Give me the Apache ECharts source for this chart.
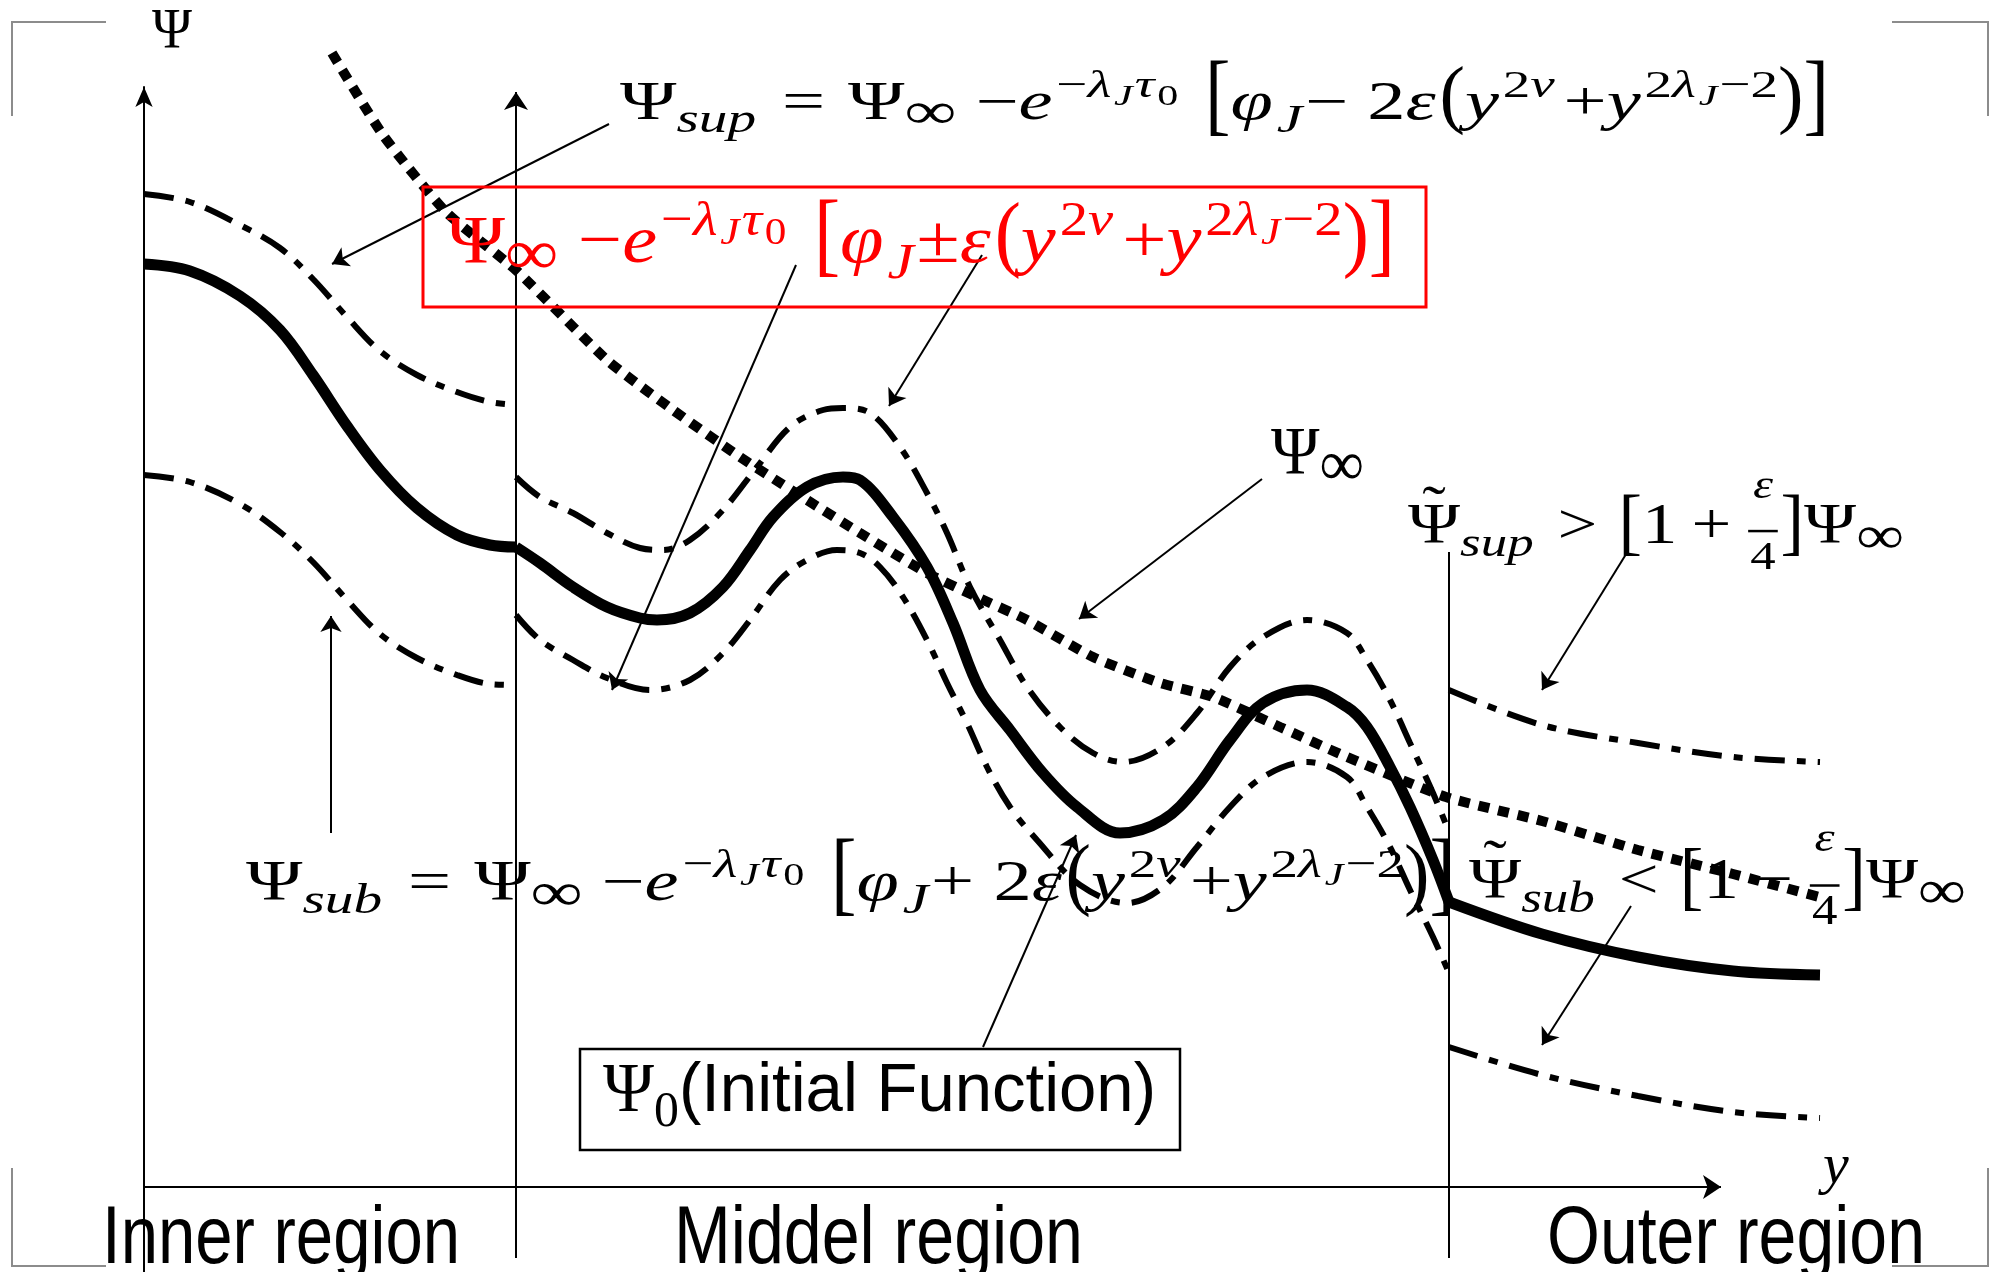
<!DOCTYPE html>
<html>
<head>
<meta charset="utf-8">
<script src="https://cdn.jsdelivr.net/npm/echarts@6.0.0/dist/echarts.min.js"></script>
<style>
  html, body { margin: 0; padding: 0; background: #fff; }
  #chart { width: 2002px; height: 1272px; }
</style>
</head>
<body>
<div id="chart"></div>
<script>
// values: x = y-coordinate, y = Psi
const innerUpper = [[0, 9.93], [0.46, 9.85], [0.96, 9.62], [1.36, 9.39], [1.69, 9.08], [2.03, 8.70], [2.36, 8.36], [2.73, 8.12], [3.13, 7.95], [3.46, 7.85], [3.72, 7.82]];
const innerSolid = [[0, 9.23], [0.46, 9.16], [0.96, 8.91], [1.36, 8.57], [1.69, 8.12], [2.03, 7.61], [2.36, 7.17], [2.73, 6.79], [3.13, 6.52], [3.46, 6.42], [3.72, 6.40]];
const innerLower = [[0, 7.12], [0.46, 7.05], [0.96, 6.83], [1.36, 6.55], [1.69, 6.25], [2.03, 5.87], [2.36, 5.53], [2.73, 5.29], [3.13, 5.12], [3.46, 5.03], [3.72, 5.02]];

const middleUpper = [[3.72, 7.10], [3.96, 6.90], [4.29, 6.74], [4.63, 6.54], [4.96, 6.39], [5.19, 6.37], [5.46, 6.47], [5.79, 6.77], [6.13, 7.20], [6.46, 7.60], [6.79, 7.77], [6.99, 7.79], [7.26, 7.74], [7.56, 7.40], [7.83, 6.94], [8.03, 6.54], [8.26, 6.00], [8.56, 5.47], [8.83, 5.00], [9.16, 4.60], [9.49, 4.34], [9.79, 4.25], [10.19, 4.40], [10.53, 4.74], [10.86, 5.20], [11.19, 5.50], [11.63, 5.67], [12.03, 5.54], [12.23, 5.27], [12.46, 4.87], [12.66, 4.44], [12.89, 3.94], [13.05, 3.55]];
const middleSolid = [[3.72, 6.40], [3.96, 6.24], [4.29, 6.00], [4.63, 5.80], [4.96, 5.69], [5.13, 5.67], [5.46, 5.74], [5.79, 6.00], [6.06, 6.37], [6.29, 6.70], [6.63, 7.00], [6.99, 7.10], [7.16, 7.07], [7.49, 6.70], [7.83, 6.20], [8.09, 5.64], [8.36, 4.97], [8.66, 4.57], [8.99, 4.14], [9.33, 3.80], [9.76, 3.54], [10.19, 3.67], [10.53, 4.00], [10.86, 4.47], [11.19, 4.84], [11.63, 4.97], [12.03, 4.80], [12.23, 4.60], [12.46, 4.20], [12.66, 3.80], [12.89, 3.27], [13.05, 2.85]];
const middleLower = [[3.72, 5.72], [3.96, 5.47], [4.29, 5.27], [4.63, 5.09], [5.06, 4.97], [5.46, 5.07], [5.79, 5.34], [6.06, 5.67], [6.36, 6.07], [6.63, 6.27], [6.93, 6.37], [7.16, 6.34], [7.36, 6.20], [7.59, 5.90], [7.83, 5.47], [8.03, 5.04], [8.23, 4.64], [8.43, 4.20], [8.66, 3.80], [8.93, 3.47], [9.36, 3.02], [9.83, 2.84], [10.19, 3.00], [10.53, 3.40], [10.86, 3.80], [11.19, 4.10], [11.63, 4.25], [12.03, 4.10], [12.23, 3.80], [12.46, 3.40], [12.66, 2.97], [12.89, 2.50], [13.05, 2.14]];

const outerUpper = [[13.05, 4.97], [13.98, 4.62], [14.94, 4.44], [15.89, 4.30], [16.76, 4.25]];
const outerSolid = [[13.05, 2.85], [13.98, 2.53], [14.94, 2.30], [15.89, 2.16], [16.76, 2.12]];
const outerLower = [[13.05, 1.40], [13.98, 1.12], [14.94, 0.91], [15.89, 0.75], [16.76, 0.69]];

// Psi_infinity (thick dotted)
const psiInf = [[1.88, 11.34], [2.39, 10.52], [3.02, 9.75], [3.73, 9.16], [4.63, 8.27], [5.29, 7.77], [5.96, 7.30], [6.63, 6.87], [7.16, 6.54], [7.83, 6.14], [8.33, 5.90], [8.83, 5.67], [9.49, 5.30], [10.16, 5.04], [10.69, 4.90], [11.36, 4.60], [12.03, 4.30], [13.02, 3.90], [13.98, 3.66], [14.94, 3.37], [15.89, 3.13], [16.79, 2.89]];

// axis and region borders
const yAxisLine = [[0, 0], [15.77, 0]];
const middleBorder = [[3.72, -0.71], [3.72, 10.95]];
const outerBorder = [[13.05, -0.71], [13.05, 6.35]];

// annotation arrows [from, to]
const annotationArrows = [
  [[4.65, 10.63], [1.88, 9.23]],
  [[6.52, 9.22], [4.68, 4.97]],
  [[8.38, 9.32], [7.45, 7.81]],
  [[11.18, 7.08], [9.35, 5.68]],
  [[14.84, 6.36], [13.98, 4.97]],
  [[14.87, 2.81], [13.98, 1.42]],
  [[1.87, 3.54], [1.87, 5.71]],
  [[8.39, 1.40], [9.32, 3.52]]
];

// ---------- text layout helpers ----------
const SERIF = '"Liberation Serif", "DejaVu Serif", serif';
const SANS = '"Liberation Sans", "DejaVu Sans", sans-serif';
const meas = document.createElement("canvas").getContext("2d");
const fontOf = (size, italic, sans) => (italic ? "italic " : "") + size.toFixed(1) + "px " + (sans ? SANS : SERIF);
const textWidth = (t, font) => { meas.font = font; return meas.measureText(t).width; };

// text whose alphabetic baseline sits at (x, baseline); sy stretches it about the baseline
function textEl(t, x, baseline, size, italic, sans, color, align, sy) {
  return {
    type: "text", x: x, y: baseline, scaleY: sy || 1, silent: true, z: 50,
    style: {
      x: 0, y: -size * (sans ? 0.3465 : 0.3375),
      text: t, font: fontOf(size, italic, sans), fill: color,
      textAlign: align || "left", textVerticalAlign: "middle", align: align || "left", verticalAlign: "middle"
    }
  };
}

const R = (t, s = 1, dy = 0) => ({ t, s, dy, i: false });
const I = (t, s = 1, dy = 0) => ({ t, s, dy, i: true });
const B = (t, sy, dy = 0) => ({ t, s: 1, dy, i: false, sy });
const G = (gap) => ({ gap });
const SUP = 0.72, UP = 0.42, SUB = 0.75, DN = -0.22, SS = 0.55, UP2 = 0.3;

function formula(tokens, opt) {
  const f = opt.size, base = opt.baseline, color = opt.color || "#000";
  const kids = [];
  let x = 0;
  tokens.forEach((tk) => {
    if (tk.gap != null) { x += tk.gap * f; return; }
    if (tk.frac) {
      const s = tk.s * f;
      const w = Math.max(textWidth(tk.frac[0], fontOf(s, true)), textWidth(tk.frac[1], fontOf(s, false))) + 0.14 * f;
      kids.push(textEl(tk.frac[0], x + w / 2, base - 0.82 * f, s, true, false, color, "center"));
      kids.push(textEl(tk.frac[1], x + w / 2, base + 0.44 * f, s, false, false, color, "center"));
      kids.push({ type: "rect", silent: true, z: 50, shape: { x: x + 0.04 * f, y: base - 0.28 * f - 1.5, width: w - 0.08 * f, height: 2.5 }, style: { fill: color } });
      x += w;
      return;
    }
    const s = tk.s * f;
    const w = textWidth(tk.t, fontOf(s, tk.i, tk.sans));
    kids.push(textEl(tk.t, x, base - tk.dy * f, s, tk.i, tk.sans, color, "left", tk.sy));
    if (tk.acc) kids.push(textEl("˜", x + w / 2, base - 0.32 * f, f, false, false, color, "center"));
    x += w + (tk.i ? 0.05 * s : 0);
  });
  const k = opt.right != null ? (opt.right - opt.left) / x : 1;
  return { type: "group", x: opt.left, y: 0, scaleX: k, children: kids };
}

const expo = () => [R("−", SUP, UP), I("λ", SUP, UP), I("J", SS, UP2), I("τ", SUP, UP), R("0", SS, UP2)];
const powers = (sy, dy) => [B("(", sy, dy), I("y"), R("2", SUP, UP), I("ν", SUP, UP), G(0.08), R("+"), I("y"), R("2", SUP, UP), I("λ", SUP, UP), I("J", SS, UP2), R("−", SUP, UP), R("2", SUP, UP), B(")", sy, dy)];
const inf = () => R("∞", 0.95, -0.17);

const supFormula = [R("Ψ"), I("sup", SUB, DN), G(0.3), R("="), G(0.3), R("Ψ"), inf(), G(0.25), R("−"), I("e"), ...expo(), G(0.35), B("[", 1.7, -0.15), I("φ"), I("J", SUB, DN), R("−"), G(0.25), R("2"), I("ε"), ...powers(1.41, -0.04), B("]", 1.7, -0.15)];
const subFormula = [R("Ψ"), I("sub", SUB, DN), G(0.3), R("="), G(0.3), R("Ψ"), inf(), G(0.25), R("−"), I("e"), ...expo(), G(0.35), B("[", 1.62, -0.13), I("φ"), I("J", SUB, DN), R("+"), G(0.25), R("2"), I("ε"), ...powers(1.41, -0.04), B("]", 1.62, -0.13)];
const redFormula = [R("Ψ"), inf(), G(0.25), R("−"), I("e"), ...expo(), G(0.35), B("[", 1.36, -0.07), I("φ"), I("J", SUB, DN), R("±"), I("ε"), ...powers(1.25, 0), B("]", 1.36, -0.07)];
const tildeSup = [{ ...R("Ψ"), acc: true }, I("sup", SUB, DN), G(0.3), R(">"), G(0.3), B("[", 1.33, -0.08), R("1"), G(0.2), R("+"), G(0.2), { frac: ["ε", "4"], s: 0.72 }, B("]", 1.33, -0.08), R("Ψ"), inf()];
const tildeSub = [{ ...R("Ψ"), acc: true }, I("sub", SUB, DN), G(0.3), R("<"), G(0.3), B("[", 1.33, -0.08), R("1"), G(0.2), R("−"), G(0.2), { frac: ["ε", "4"], s: 0.72 }, B("]", 1.33, -0.08), R("Ψ"), inf()];
const sans = (t, s = 1) => ({ t, s, dy: 0, i: false, sans: true });

const chart = echarts.init(document.getElementById("chart"));

const solidStyle = { color: "#000", width: 11, type: "solid", join: "round" };
const boundStyle = { color: "#000", width: 6, type: [30, 12, 9, 12] };
const limitStyle = { color: "#000", width: 10, type: [11, 9] };
const thinStyle = { color: "#000", width: 2, opacity: 1 };

const curve = (name, data, lineStyle) => ({
  name, type: "line", data, smooth: 0.35, showSymbol: false, symbol: "none",
  clip: false, silent: true, lineStyle, z: 3
});
const segments = (data, symbol, size) => ({
  type: "lines", coordinateSystem: "cartesian2d", clip: false, silent: true,
  symbol, symbolSize: size, lineStyle: thinStyle, data: data.map((c) => ({ coords: c }))
});

const option = {
  animation: false,
  backgroundColor: "#fff",
  grid: { left: 144, right: 168, top: 87, bottom: 0 },
  xAxis: {
    type: "value", min: 0, max: 16.9,
    axisLine: { show: false }, axisTick: { show: false }, axisLabel: { show: false }, splitLine: { show: false }
  },
  yAxis: {
    type: "value", min: -0.85, max: 11,
    axisLine: { show: true, onZero: false, symbol: ["none", "arrow"], symbolSize: [13, 20], lineStyle: { color: "#000", width: 2 } },
    axisTick: { show: false }, axisLabel: { show: false }, splitLine: { show: false }
  },
  series: [
    curve("innerUpper", innerUpper, boundStyle),
    curve("innerSolid", innerSolid, solidStyle),
    curve("innerLower", innerLower, boundStyle),
    curve("middleUpper", middleUpper, boundStyle),
    curve("middleSolid", middleSolid, solidStyle),
    curve("middleLower", middleLower, boundStyle),
    curve("outerUpper", outerUpper, boundStyle),
    curve("outerSolid", outerSolid, solidStyle),
    curve("outerLower", outerLower, boundStyle),
    { ...curve("psiInf", psiInf, limitStyle), smooth: 0.2 },
    segments([yAxisLine, middleBorder], ["none", "arrow"], 18),
    segments([outerBorder], ["none", "none"], 0),
    segments(annotationArrows, ["none", "arrow"], 16)
  ],
  graphic: {
    elements: [
      // page corner marks
      { type: "polyline", silent: true, shape: { points: [[12, 116], [12, 22], [106, 22]] }, style: { stroke: "#8c8c8c", lineWidth: 2, fill: null } },
      { type: "polyline", silent: true, shape: { points: [[1892, 22], [1988, 22], [1988, 116]] }, style: { stroke: "#8c8c8c", lineWidth: 2, fill: null } },
      { type: "polyline", silent: true, shape: { points: [[12, 1168], [12, 1266], [106, 1266]] }, style: { stroke: "#8c8c8c", lineWidth: 2, fill: null } },
      { type: "polyline", silent: true, shape: { points: [[1892, 1266], [1988, 1266], [1988, 1168]] }, style: { stroke: "#8c8c8c", lineWidth: 2, fill: null } },
      // boxes
      { type: "rect", silent: true, z: 40, shape: { x: 423, y: 187, width: 1003, height: 120 }, style: { stroke: "#ff0000", lineWidth: 3, fill: null } },
      { type: "rect", silent: true, z: 40, shape: { x: 580, y: 1049, width: 600, height: 101 }, style: { stroke: "#000", lineWidth: 2.5, fill: null } },
      // labels
      formula([R("Ψ")], { left: 152, right: 192, baseline: 52, size: 58 }),
      formula([I("y")], { left: 1823, baseline: 1187, size: 58 }),
      formula(supFormula, { left: 620, right: 1829, baseline: 123, size: 54 }),
      formula(redFormula, { left: 447, right: 1395, baseline: 267, size: 68, color: "#ff0000" }),
      formula([R("Ψ"), inf()], { left: 1271, right: 1364, baseline: 478, size: 68 }),
      formula(tildeSup, { left: 1408, right: 1904, baseline: 547, size: 56 }),
      formula(subFormula, { left: 246, right: 1455, baseline: 904, size: 57 }),
      formula(tildeSub, { left: 1469, right: 1966, baseline: 902, size: 58 }),
      formula([R("Ψ"), R("0", 0.72, -0.2), sans("(Initial Function)", 0.97)], { left: 603, right: 1156, baseline: 1116, size: 70 }),
      formula([sans("Inner region")], { left: 102, right: 460, baseline: 1269, size: 82 }),
      formula([sans("Middel region")], { left: 674, right: 1083, baseline: 1269, size: 82 }),
      formula([sans("Outer region")], { left: 1547, right: 1925, baseline: 1269, size: 82 })
    ]
  }
};

chart.setOption(option);
window.addEventListener("resize", () => chart.resize());
</script>
</body>
</html>
